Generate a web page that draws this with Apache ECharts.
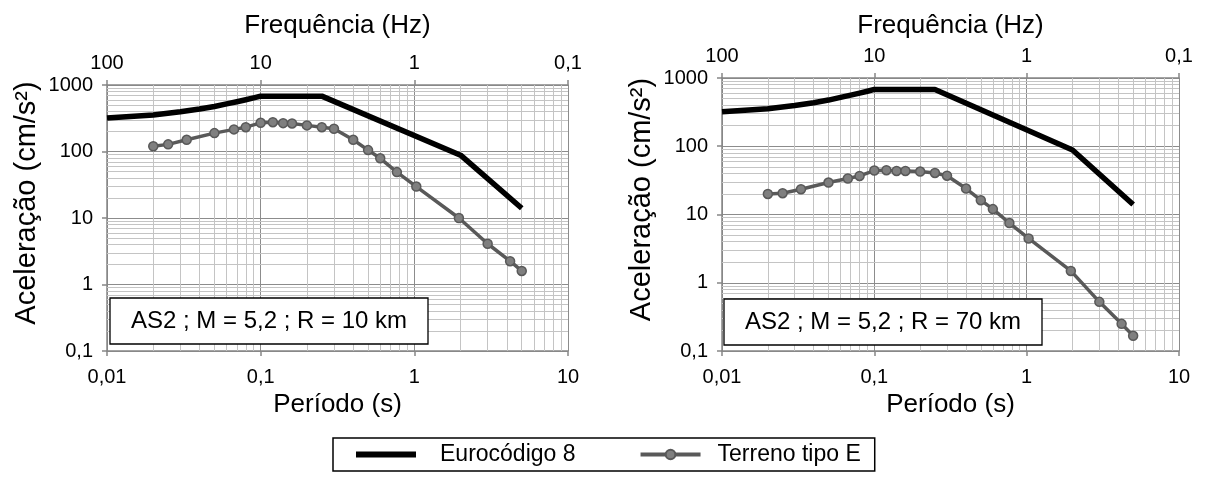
<!DOCTYPE html>
<html>
<head>
<meta charset="utf-8">
<script src="https://cdn.jsdelivr.net/npm/echarts@6/dist/echarts.min.js"></script>
<style>
  html, body { margin: 0; padding: 0; background: #fff; }
  #box { width: 1205px; height: 477px; }
</style>
</head>
<body>
<div id="box"></div>
<script>
// Eurocódigo 8 (mesmo espectro nos dois gráficos)
var ec8Periods = [0.01, 0.02, 0.03, 0.04, 0.05, 0.06, 0.07, 0.08, 0.09, 0.1, 0.25, 2, 5];
var ec8Accel = [320, 355, 395, 435, 475, 520, 560, 600, 640, 680, 680, 88, 14];

// Terreno tipo E
var soilPeriods = [0.02, 0.025, 0.033, 0.05, 0.067, 0.08, 0.1, 0.12, 0.14, 0.16, 0.2, 0.25,
    0.3, 0.4, 0.5, 0.6, 0.77, 1.03, 1.95, 3, 4.2, 5];
var soilAccelR10 = [120, 128, 150, 189, 215, 232, 270, 276, 267, 264, 247, 232,
    220, 150, 105, 79, 49, 29.7, 10, 4.1, 2.24, 1.6];
var soilAccelR70 = [20, 20.5, 23.5, 29.4, 33.7, 36.7, 44.1, 44.6, 43.5, 43.5, 42.6, 40.6,
    37, 24, 16.2, 12, 7.5, 4.46, 1.49, 0.525, 0.25, 0.167];

var periodTicks = ['0,01', '0,1', '1', '10'];
var freqTicks = ['100', '10', '1', '0,1'];
var accelTicks = ['0,1', '1', '10', '100', '1000'];

var boxLabels = ['AS2 ; M = 5,2 ; R = 10 km', 'AS2 ; M = 5,2 ; R = 70 km'];

window.onload = function () {
    var myChart = echarts.init(document.getElementById('box'));
    var font = 'Liberation Sans, Arial, sans-serif';
    var axisGray = '#868686';

    function pairs(xs, ys) {
        return xs.map(function (x, i) { return [x, ys[i]]; });
    }
    function comma(v) {
        return String(v).replace('.', ',');
    }
    // linhas secundárias da grelha: 2..9 de cada década
    function minorValues(lo, hi) {
        var out = [];
        for (var d = lo; d < hi; d *= 10) {
            for (var k = 2; k <= 9; k++) out.push(+(d * k).toPrecision(3));
        }
        return out;
    }
    var minorX = minorValues(0.01, 10).map(function (v) { return { xAxis: v }; });
    var minorY = minorValues(0.1, 1000).map(function (v) { return { yAxis: v }; });

    var grids = [
        { left: 107, right: 637, top: 85, bottom: 126 },
        { left: 722, right: 26, top: 78, bottom: 126 }
    ];
    var topGap = [46, 39];

    var xAxes = [], yAxes = [], series = [];
    grids.forEach(function (g, i) {
        g.outerBoundsMode = 'none';
        xAxes.push({
            type: 'log', logBase: 10, gridIndex: i, min: 0.01, max: 10,
            position: 'bottom',
            name: 'Período (s)', nameLocation: 'middle', nameGap: 41,
            nameTextStyle: { fontFamily: font, fontSize: 26, color: '#000' },
            axisLine: { show: true, lineStyle: { color: axisGray, width: 1.5 } },
            axisTick: { show: true, length: 5, lineStyle: { color: axisGray, width: 1.5 } },
            axisLabel: { fontFamily: font, fontSize: 20, color: '#000', margin: 16, formatter: comma },
            splitLine: { show: true, lineStyle: { color: '#8c8c8c', width: 1 } },
            minorTick: { show: false }
        });
        xAxes.push({
            type: 'log', logBase: 10, gridIndex: i, min: 0.1, max: 100, inverse: true,
            position: 'top',
            name: 'Frequência (Hz)', nameLocation: 'middle', nameGap: topGap[i],
            nameTextStyle: { fontFamily: font, fontSize: 26, color: '#000' },
            axisLine: { show: true, lineStyle: { color: axisGray, width: 1.5 } },
            axisTick: { show: true, length: 5, lineStyle: { color: axisGray, width: 1.5 } },
            axisLabel: { fontFamily: font, fontSize: 20, color: '#000', margin: 12, formatter: comma },
            splitLine: { show: false }
        });
        yAxes.push({
            type: 'log', logBase: 10, gridIndex: i, min: 0.1, max: 1000,
            name: 'Aceleração (cm/s²)', nameLocation: 'middle', nameGap: 66,
            nameTextStyle: { fontFamily: font, fontSize: 29, color: '#000', padding: [0, 0, 0, 30] },
            axisLine: { show: true, lineStyle: { color: axisGray, width: 1.5 } },
            axisTick: { show: true, length: 5, lineStyle: { color: axisGray, width: 1.5 } },
            axisLabel: { fontFamily: font, fontSize: 20, color: '#000', margin: 14, formatter: comma },
            splitLine: { show: true, lineStyle: { color: '#8c8c8c', width: 1 } }
        });

        // grelha secundária
        series.push({
            type: 'line', xAxisIndex: i * 2, yAxisIndex: i, data: [], silent: true,
            markLine: {
                silent: true, animation: false, z: 1,
                symbol: ['none', 'none'],
                label: { show: false },
                emphasis: { disabled: true },
                lineStyle: { color: '#c4c4c4', width: 1, type: 'solid' },
                data: minorX.concat(minorY)
            }
        });
        series.push({
            name: 'Eurocódigo 8', type: 'line', xAxisIndex: i * 2, yAxisIndex: i, z: 4,
            data: pairs(ec8Periods, ec8Accel),
            symbol: 'none', smooth: false,
            lineStyle: { color: '#000', width: 5.5, join: 'round' },
            itemStyle: { color: '#000' },
            animation: false
        });
        series.push({
            name: 'Terreno tipo E', type: 'line', xAxisIndex: i * 2, yAxisIndex: i, z: 5,
            data: pairs(soilPeriods, i === 0 ? soilAccelR10 : soilAccelR70),
            symbol: 'circle', symbolSize: 9,
            lineStyle: { color: '#595959', width: 3.5 },
            itemStyle: { color: '#7f7f7f', borderColor: '#595959', borderWidth: 1.5 },
            animation: false
        });
    });

    var option = {
        backgroundColor: '#fff',
        animation: false,
        grid: grids,
        xAxis: xAxes,
        yAxis: yAxes,
        series: series,
        legend: {
            data: [
                {
                    name: 'Eurocódigo 8', itemStyle: { opacity: 0 },
                    lineStyle: { width: 6, color: '#000' },
                    textStyle: { padding: [0, 0, 0, 19] }
                },
                {
                    name: 'Terreno tipo E', lineStyle: { width: 4, color: '#595959' },
                    textStyle: { padding: [0, 0, 0, 12] }
                }
            ],
            left: 333, top: 438,
            orient: 'horizontal',
            itemWidth: 60, itemHeight: 12, itemGap: 63,
            padding: [5, 14, 5, 20],
            borderColor: '#000', borderWidth: 1.5,
            backgroundColor: '#fff',
            selectedMode: false,
            textStyle: { fontFamily: font, fontSize: 23, color: '#000' }
        },
        graphic: [0, 1].map(function (i) {
            var x = i === 0 ? 110 : 724;
            var y = i === 0 ? 298 : 299;
            return {
                type: 'group', z: 100,
                children: [{
                    type: 'rect', z: 100,
                    shape: { x: x, y: y, width: 318, height: 46 },
                    style: { fill: '#fff', stroke: '#000', lineWidth: 1.3 }
                }, {
                    type: 'text', z: 101,
                    x: x + 159, y: y + 23,
                    style: {
                        text: boxLabels[i], font: '24px ' + font, fill: '#000',
                        align: 'center', verticalAlign: 'middle'
                    }
                }]
            };
        })
    };
    myChart.setOption(option);
};
</script>
</body>
</html>
